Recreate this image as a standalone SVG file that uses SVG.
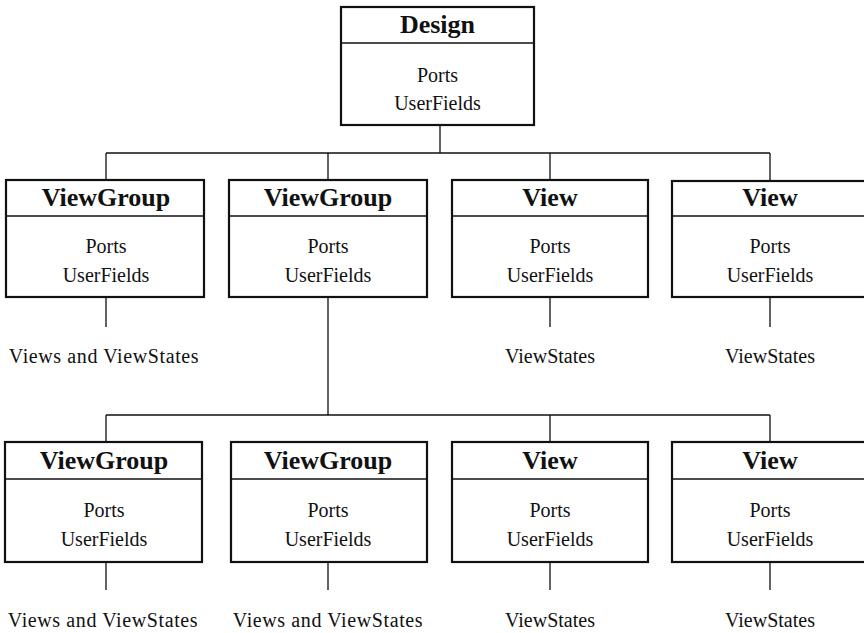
<svg xmlns="http://www.w3.org/2000/svg" width="864" height="633" viewBox="0 0 864 633">
<style>
.box{fill:#fff;stroke:#111;stroke-width:2.2}
.div{stroke:#111;stroke-width:1.6}
.con{stroke:#111;stroke-width:1.3;fill:none}
.t{font-family:"Liberation Serif","Times New Roman",serif;font-weight:bold;font-size:26px;fill:#111;text-anchor:middle}
.b{font-family:"Liberation Serif","Times New Roman",serif;font-size:20px;fill:#111;text-anchor:middle}
.w{letter-spacing:0.6px}
</style>
<rect width="864" height="633" fill="#fff"/>
<g id="connectors">
<path class="con" d="M440 125V153M106 153H770M106 153V180M328 153V180M550 153V180M770 153V180"/>
<path class="con" d="M106 297V327M550 297V327M770 297V327"/>
<path class="con" d="M328 297V415M106 415H770M106 415V442M550 415V442M770 415V442"/>
<path class="con" d="M106 562V590M328 562V590M550 562V590M770 562V590"/>
</g>
<g id="design">
<rect class="box" x="341" y="7" width="193" height="118"/>
<line class="div" x1="341" y1="43" x2="534" y2="43"/>
<text class="t" x="437.5" y="33">Design</text>
<text class="b" x="437.5" y="82">Ports</text>
<text class="b" x="437.5" y="110">UserFields</text>
</g>
<g id="vg1">
<rect class="box" x="6" y="180" width="198" height="117"/>
<line class="div" x1="6" y1="216" x2="204" y2="216"/>
<text class="t" x="106" y="206">ViewGroup</text>
<text class="b" x="106" y="253">Ports</text>
<text class="b" x="106" y="282">UserFields</text>
<text class="b w" x="104" y="363">Views and ViewStates</text>
</g>
<g id="vg2">
<rect class="box" x="229" y="180" width="198" height="117"/>
<line class="div" x1="229" y1="216" x2="427" y2="216"/>
<text class="t" x="328" y="206">ViewGroup</text>
<text class="b" x="328" y="253">Ports</text>
<text class="b" x="328" y="282">UserFields</text>
</g>
<g id="v1">
<rect class="box" x="452" y="180" width="196" height="117"/>
<line class="div" x1="452" y1="216" x2="648" y2="216"/>
<text class="t" x="550" y="206">View</text>
<text class="b" x="550" y="253">Ports</text>
<text class="b" x="550" y="282">UserFields</text>
<text class="b" x="550" y="363">ViewStates</text>
</g>
<g id="v2">
<rect class="box" x="672" y="181" width="196" height="116"/>
<line class="div" x1="672" y1="216" x2="868" y2="216"/>
<text class="t" x="770" y="206">View</text>
<text class="b" x="770" y="253">Ports</text>
<text class="b" x="770" y="282">UserFields</text>
<text class="b" x="770" y="363">ViewStates</text>
</g>
<g id="vg3">
<rect class="box" x="5" y="442" width="197" height="120"/>
<line class="div" x1="5" y1="479" x2="202" y2="479"/>
<text class="t" x="104" y="469">ViewGroup</text>
<text class="b" x="104" y="517">Ports</text>
<text class="b" x="104" y="546">UserFields</text>
<text class="b w" x="103" y="627">Views and ViewStates</text>
</g>
<g id="vg4">
<rect class="box" x="231" y="442" width="196" height="120"/>
<line class="div" x1="231" y1="479" x2="427" y2="479"/>
<text class="t" x="328" y="469">ViewGroup</text>
<text class="b" x="328" y="517">Ports</text>
<text class="b" x="328" y="546">UserFields</text>
<text class="b w" x="328" y="627">Views and ViewStates</text>
</g>
<g id="v3">
<rect class="box" x="452" y="442" width="196" height="120"/>
<line class="div" x1="452" y1="479" x2="648" y2="479"/>
<text class="t" x="550" y="469">View</text>
<text class="b" x="550" y="517">Ports</text>
<text class="b" x="550" y="546">UserFields</text>
<text class="b" x="550" y="627">ViewStates</text>
</g>
<g id="v4">
<rect class="box" x="672" y="442" width="196" height="120"/>
<line class="div" x1="672" y1="479" x2="868" y2="479"/>
<text class="t" x="770" y="469">View</text>
<text class="b" x="770" y="517">Ports</text>
<text class="b" x="770" y="546">UserFields</text>
<text class="b" x="770" y="627">ViewStates</text>
</g>
</svg>
